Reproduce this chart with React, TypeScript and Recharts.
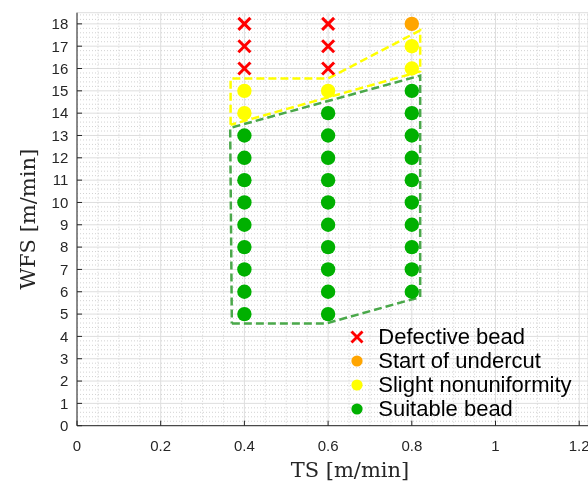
import React from 'react';
import { ScatterChart, Scatter, XAxis, YAxis, CartesianGrid, ReferenceLine } from 'recharts';

// travel speed columns and the wire feed speeds tested at each one
const tsValues = [0.4, 0.6, 0.8];
const suitableWfs = [
  [5, 6, 7, 8, 9, 10, 11, 12, 13],
  [5, 6, 7, 8, 9, 10, 11, 12, 13, 14],
  [6, 7, 8, 9, 10, 11, 12, 13, 14, 15],
];
const slightWfs = [[14, 15], [15], [16, 17]];
const undercutWfs = [[], [], [18]];
const defectiveWfs = [[16, 17, 18], [16, 17, 18], []];

// dashed process windows (vertices, closed)
const suitableRegionTs = [0.37, 0.595, 0.82, 0.82, 0.366, 0.37];
const suitableRegionWfs = [4.58, 4.58, 5.76, 15.68, 13.34, 4.58];
const slightRegionTs = [0.367, 0.367, 0.6, 0.82, 0.82, 0.367];
const slightRegionWfs = [13.48, 15.55, 15.55, 17.71, 15.87, 13.48];

const xTicks = [0, 0.2, 0.4, 0.6, 0.8, 1, 1.2];
const xTickLabels = ['0', '0.2', '0.4', '0.6', '0.8', '1', '1.2'];
const yTicks = [0, 1, 2, 3, 4, 5, 6, 7, 8, 9, 10, 11, 12, 13, 14, 15, 16, 17, 18];

const legendNames = ['Defective bead', 'Start of undercut', 'Slight nonuniformity', 'Suitable bead'];
const legendColors = ['#ff0000', '#ffa500', '#ffff00', '#00b000'];

// minor grid positions
const xMinor = Array.from({ length: 24 }, (_, i) => i + 1).filter(k => k % 4 !== 0).map(k => k * 0.05);
const yMinor = Array.from({ length: 92 }, (_, i) => i + 1).filter(k => k % 5 !== 0).map(k => k * 0.2);

const toPoints = (rows: number[][]) =>
  rows.flatMap((ws, i) => ws.map(y => ({ x: tsValues[i], y })));
const toPath = (xs: number[], ys: number[]) => xs.map((x, i) => ({ x, y: ys[i] }));

const tickFont = { fill: '#262626', fontSize: 15, fontFamily: '"Liberation Sans", Arial, sans-serif' };

const Dot = (color: string, r: number) => (props: any) =>
  <circle cx={props.cx} cy={props.cy} r={r} fill={color} />;

const Cross = (color: string, h: number, w: number) => (props: any) => (
  <g stroke={color} strokeWidth={w}>
    <line x1={props.cx - h} y1={props.cy - h} x2={props.cx + h} y2={props.cy + h} />
    <line x1={props.cx - h} y1={props.cy + h} x2={props.cx + h} y2={props.cy - h} />
  </g>
);

const NoShape = () => <g />;

const XLabel = (props: any) => {
  const vb = props.viewBox || { x: 69, y: 417.7 };
  return (
    <text x={vb.x + 273} y={vb.y + 50.8} textAnchor="middle" fontSize={21}
      fontFamily='"DejaVu Serif", serif' fill="#262626">TS [m/min]</text>
  );
};

const YLabel = (props: any) => {
  const vb = props.viewBox || { y: 4.7, height: 413 };
  const cx = 27;
  const cy = vb.y + vb.height / 2;
  return (
    <text x={cx} y={cy} transform={`rotate(-90, ${cx}, ${cy})`} textAnchor="middle" fontSize={21}
      fontFamily='"DejaVu Serif", serif' fill="#262626">WFS [m/min]</text>
  );
};

const LegendMarker = ({ i }: { i: number }) => (
  <svg width={16} height={16} style={{ position: 'absolute', left: 341.3, top: 4 }}>
    {i === 0 ? (
      <g stroke={legendColors[i]} strokeWidth={2.8}>
        <line x1={2.5} y1={2.5} x2={13.5} y2={13.5} />
        <line x1={2.5} y1={13.5} x2={13.5} y2={2.5} />
      </g>
    ) : (
      <circle cx={8} cy={8} r={5.6} fill={legendColors[i]} />
    )}
  </svg>
);

export default function App() {
  return (
    <div style={{ position: 'fixed', left: 8, top: 8, width: 580, height: 475 }}>
      <ScatterChart width={580} height={475} margin={{ top: 4.7, right: 0, bottom: 0, left: 0 }}>
        {xMinor.map(v => (
          <ReferenceLine key={'xm' + v} x={v} stroke="#d2d2d2" strokeDasharray="1 2" />
        ))}
        {yMinor.map(v => (
          <ReferenceLine key={'ym' + v} y={v} stroke="#d2d2d2" strokeDasharray="1 2" />
        ))}
        <CartesianGrid stroke="#dedede" />
        <XAxis
          type="number"
          dataKey="x"
          domain={[0, 1.221]}
          ticks={xTicks}
          interval={0}
          allowDataOverflow
          height={57.3}
          tickSize={-5}
          tickMargin={19.3}
          tickFormatter={(v: number) => xTickLabels[xTicks.indexOf(v)] ?? String(v)}
          axisLine={{ stroke: '#262626' }}
          tickLine={{ stroke: '#262626' }}
          tick={tickFont}
          label={<XLabel />}
        />
        <YAxis
          type="number"
          dataKey="y"
          domain={[0, 18.5]}
          ticks={yTicks}
          interval={0}
          allowDataOverflow
          width={69}
          tickSize={-5}
          tickMargin={13.7}
          axisLine={{ stroke: '#262626' }}
          tickLine={{ stroke: '#262626' }}
          tick={tickFont}
          label={<YLabel />}
        />
        <Scatter
          data={toPath(suitableRegionTs, suitableRegionWfs)}
          fill="#4aa84a"
          line={{ stroke: '#4aa84a', strokeWidth: 2.5, strokeDasharray: '8 4' }}
          shape={NoShape}
          legendType="none"
          isAnimationActive={false}
        />
        <Scatter
          data={toPath(slightRegionTs, slightRegionWfs)}
          fill="#ffff00"
          line={{ stroke: '#ffff00', strokeWidth: 2.5, strokeDasharray: '8 4' }}
          shape={NoShape}
          legendType="none"
          isAnimationActive={false}
        />
        <Scatter name="Defective bead" data={toPoints(defectiveWfs)} fill="#ff0000"
          shape={Cross('#ff0000', 6, 3)} isAnimationActive={false} />
        <Scatter name="Start of undercut" data={toPoints(undercutWfs)} fill="#ffa500"
          shape={Dot('#ffa500', 7.2)} isAnimationActive={false} />
        <Scatter name="Slight nonuniformity" data={toPoints(slightWfs)} fill="#ffff00"
          shape={Dot('#ffff00', 7.2)} isAnimationActive={false} />
        <Scatter name="Suitable bead" data={toPoints(suitableWfs)} fill="#00b000"
          shape={Dot('#00b000', 7.2)} isAnimationActive={false} />
      </ScatterChart>
      {legendNames.map((name, i) => (
        <div key={name} style={{ position: 'absolute', left: 0, top: 316.5 + 24 * i, height: 24, width: 580 }}>
          <LegendMarker i={i} />
          <span style={{
            position: 'absolute', left: 370.3, top: 0, lineHeight: '24px', fontSize: 22,
            fontFamily: '"Liberation Sans", Arial, sans-serif', color: '#000', whiteSpace: 'nowrap',
          }}>{name}</span>
        </div>
      ))}
    </div>
  );
}
